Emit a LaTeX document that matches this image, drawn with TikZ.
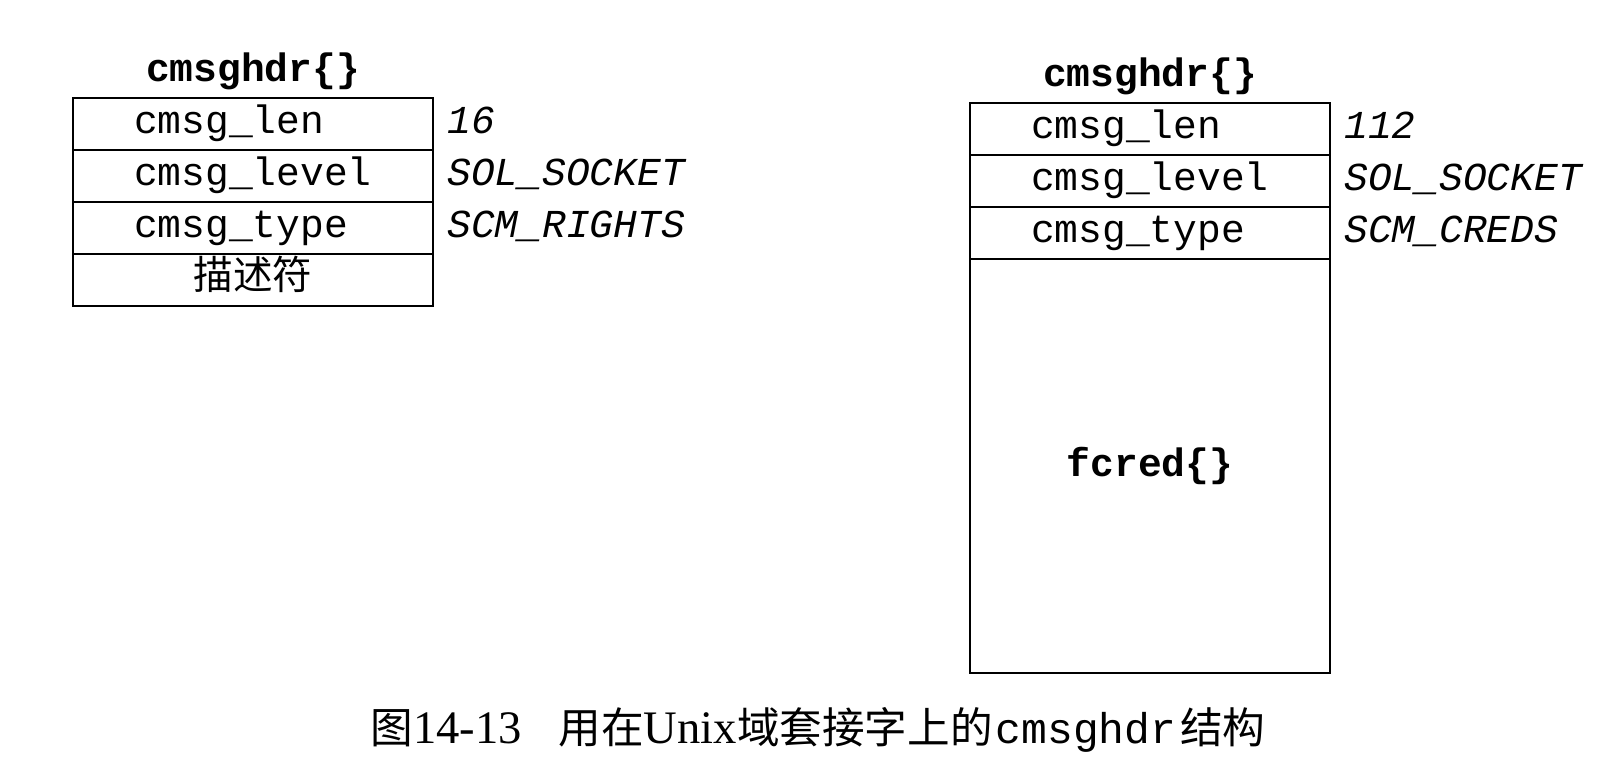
\documentclass[tikz,border=0pt]{standalone}
\usepackage{fontspec}
\setmainfont{Liberation Serif}
\setmonofont{Liberation Mono}
\newfontfamily\cjk{Noto Sans CJK SC}
\usetikzlibrary{positioning}

\newcommand\fieldfont{\fontsize{19.8pt}{22pt}\selectfont\ttfamily}
\newcommand\capcjk{\cjk\fontsize{21.3pt}{24pt}\selectfont}

\tikzset{
  field/.style={draw, line width=1pt, minimum width=180pt, minimum height=26pt,
    text width=119pt, inner xsep=30.5pt, inner ysep=0pt,
    text height=14pt, text depth=4pt, align=left, anchor=north west, font=\fieldfont},
  fieldval/.style={inner sep=0pt, text height=14pt, text depth=4pt, font=\fieldfont\itshape},
  structname/.style={inner sep=0pt, text height=14pt, text depth=4pt, font=\fieldfont\bfseries}
}

\begin{document}
\begin{tikzpicture}[x=0.5pt, y=-0.5pt]

      \useasboundingbox (0,0) rectangle (1604,758);

      \def\rowH{52}
      \def\xL{72}
      \def\yL{97}
      \def\xR{969}
      \def\yR{102}

      % SCM_RIGHTS
      \foreach \n/\txt/\val [count=\i from 0] in {len/cmsg\_len/16, level/cmsg\_level/SOL\_SOCKET, type/cmsg\_type/SCM\_RIGHTS}{
        \node[field] (L\n) at (\xL, {\yL+\i*\rowH}) {\txt};
        \node[fieldval, anchor=west, right=6.5pt of L\n] (vL\n) {\val};
      }
      \node[field, align=center] (Ldesc) at (\xL, {\yL+3*\rowH}) {\cjk 描述符};
      \node[structname, above=3.5pt of Llen] (tL) {cmsghdr\{\}};

      % SCM_CREDS
      \foreach \n/\txt/\val [count=\i from 0] in {len/cmsg\_len/112, level/cmsg\_level/SOL\_SOCKET, type/cmsg\_type/SCM\_CREDS}{
        \node[field] (R\n) at (\xR, {\yR+\i*\rowH}) {\txt};
        \node[fieldval, anchor=west, right=6.5pt of R\n] (vR\n) {\val};
      }
      \node[field, align=center, minimum height=207pt, text height=, text depth=, font=\fieldfont\bfseries]
        (Rcred) at (\xR, {\yR+3*\rowH}) {fcred\{\}};
      \node[structname, above=3.5pt of Rlen] (tR) {cmsghdr\{\}};

      \node[anchor=base west, inner sep=0pt, font=\fontsize{23.3pt}{26pt}\selectfont] (cap) at (370,743)
        {{\capcjk 图}14-13\hspace{18.5pt}{\capcjk 用在}Unix{\capcjk 域套接字上的}\hspace{1.5pt}{\ttfamily\fontsize{21.5pt}{24pt}\selectfont cmsghdr}\hspace{2pt}{\capcjk 结构}};

    \end{tikzpicture}
\end{document}
